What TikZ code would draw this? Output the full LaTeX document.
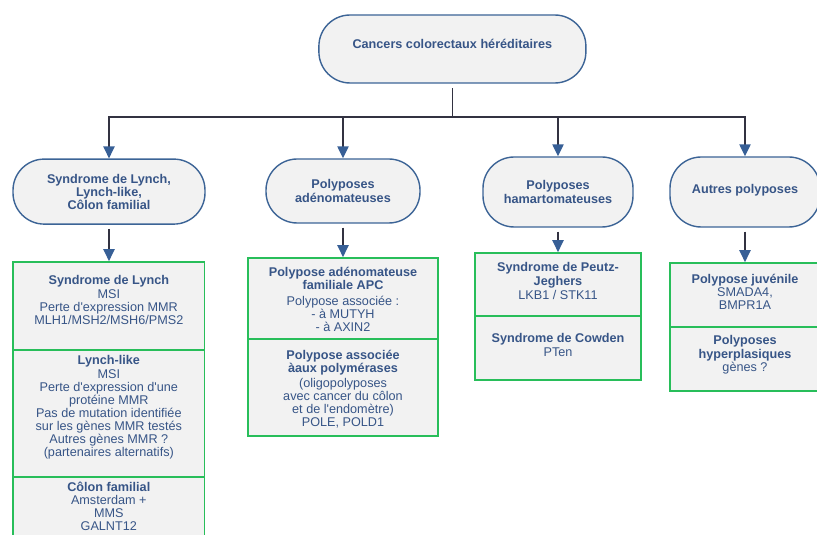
\documentclass[tikz,border=0pt]{standalone}
\usepackage{fontspec}
\setmainfont{Liberation Sans}[Ligatures=TeXOff]
\usetikzlibrary{arrows.meta, shapes.misc}

\definecolor{capblue}{RGB}{60,100,150}
\definecolor{textblue}{RGB}{55,85,135}
\definecolor{boxgreen}{RGB}{40,190,90}
\definecolor{boxgray}{RGB}{242,242,242}
\definecolor{linegray}{RGB}{50,50,65}
\definecolor{arrowblue}{RGB}{55,95,150}

\tikzset{
  capsule/.style={rectangle, rounded corners=0.78cm, draw=capblue, line width=1pt, fill=boxgray,
    text=textblue, align=center, font=\fontsize{9}{9.3}\selectfont\bfseries},
  section/.style={rectangle, draw=boxgreen, line width=1.2pt, fill=boxgray},
  sectext/.style={anchor=north, inner sep=0pt, align=center, text=textblue,
    font=\fontsize{9}{9.3}\selectfont},
  link/.style={draw=linegray, line width=1pt, -{Triangle[length=8.5pt, width=8pt, color=arrowblue]}},
}

\begin{document}
\begin{tikzpicture}
  \useasboundingbox (0, 0) rectangle (20.425, -13.375);
  \clip (0, 0) rectangle (20.425, -13.375);

  % top and family capsules
  \node (root) [capsule, minimum width=6.675cm, minimum height=1.7cm, text depth=8pt] at (11.31, -1.225) {Cancers colorectaux héréditaires};
  \node (lynch) [capsule, minimum width=4.8cm, minimum height=1.625cm] at (2.725, -4.79) {Syndrome de Lynch,\\Lynch-like,\\Côlon familial};
  \node (adeno) [capsule, minimum width=3.85cm, minimum height=1.6cm] at (8.575, -4.775) {Polyposes\\adénomateuses};
  \node (hamarto) [capsule, minimum width=3.75cm, minimum height=1.75cm] at (13.95, -4.8) {Polyposes\\hamartomateuses};
  \node (autres) [capsule, minimum width=3.75cm, minimum height=1.75cm, text depth=5pt] at (18.625, -4.8) {Autres polyposes};
  \coordinate (bus) at (11.31, -2.925);

  % green boxes
  \node (lynchbox) [section, minimum width=4.78cm, minimum height=2.2cm] at (2.72, -7.65) {};
  \node (likebox) [section, minimum width=4.78cm, minimum height=3.175cm] at (2.72, -10.3375) {};
  \node (colonbox) [section, minimum width=4.78cm, minimum height=1.775cm] at (2.72, -12.8125) {};
  \node (apcbox) [section, minimum width=4.75cm, minimum height=2.025cm] at (8.575, -7.4625) {};
  \node (polbox) [section, minimum width=4.75cm, minimum height=2.425cm] at (8.575, -9.6875) {};
  \node (peutzbox) [section, minimum width=4.15cm, minimum height=1.575cm] at (13.95, -7.1125) {};
  \node (cowdenbox) [section, minimum width=4.15cm, minimum height=1.6cm] at (13.95, -8.7) {};
  \node (juvbox) [section, minimum width=3.75cm, minimum height=1.6cm] at (18.625, -7.375) {};
  \node (hyperbox) [section, minimum width=3.75cm, minimum height=1.6cm] at (18.625, -8.975) {};

  % box texts
  \node (lynchtxt) [sectext] at (2.72, -6.8875) {\textbf{Syndrome de Lynch}\\MSI\\Perte d'expression MMR\\MLH1/MSH2/MSH6/PMS2};
  \node (liketxt) [sectext] at (2.72, -8.8875) {\textbf{Lynch-like}\\MSI\\Perte d'expression d'une\\protéine MMR\\Pas de mutation identifiée\\sur les gènes MMR testés\\Autres gènes MMR ?\\(partenaires alternatifs)};
  \node (colontxt) [sectext] at (2.72, -12.0375) {\textbf{Côlon familial}\\Amsterdam +\\MMS\\GALNT12};
  \node (apctxt) [sectext] at (8.575, -6.6625) {\textbf{Polypose adénomateuse}\\\textbf{familiale APC}\\[2pt]Polypose associée :\\- à MUTYH\\- à AXIN2};
  \node (poltxt) [sectext] at (8.575, -8.7375) {\textbf{Polypose associée}\\\textbf{àaux polymérases}\\[1.5pt](oligopolyposes\\avec cancer du côlon\\et de l'endomètre)\\POLE, POLD1};
  \node (peutztxt) [sectext] at (13.95, -6.5625) {\textbf{Syndrome de Peutz-}\\\textbf{Jeghers}\\[1pt]LKB1 / STK11};
  \node (cowdentxt) [sectext] at (13.95, -8.3375) {\textbf{Syndrome de Cowden}\\PTen};
  \node (juvtxt) [sectext] at (18.625, -6.8375) {\textbf{Polypose juvénile}\\SMADA4,\\BMPR1A};
  \node (hypertxt) [sectext] at (18.625, -8.3875) {\textbf{Polyposes}\\\textbf{hyperplasiques}\\gènes ?};

  % connectors
  \draw[linegray, line width=1pt, shorten <=0.12cm] (root.south) -- (bus);
  \draw[link] (bus) -| (lynch.north);
  \draw[link] (bus) -| (adeno.north);
  \draw[link] (bus) -| (hamarto.north);
  \draw[link] (bus) -| (autres.north);
  \draw[link, shorten <=0.1cm] (lynch.south) -- (lynch.south |- lynchbox.north);
  \draw[link, shorten <=0.1cm] (adeno.south) -- (adeno.south |- apcbox.north);
  \draw[link, shorten <=0.1cm] (hamarto.south) -- (hamarto.south |- peutzbox.north);
  \draw[link, shorten <=0.1cm] (autres.south) -- (autres.south |- juvbox.north);
\end{tikzpicture}
\end{document}
